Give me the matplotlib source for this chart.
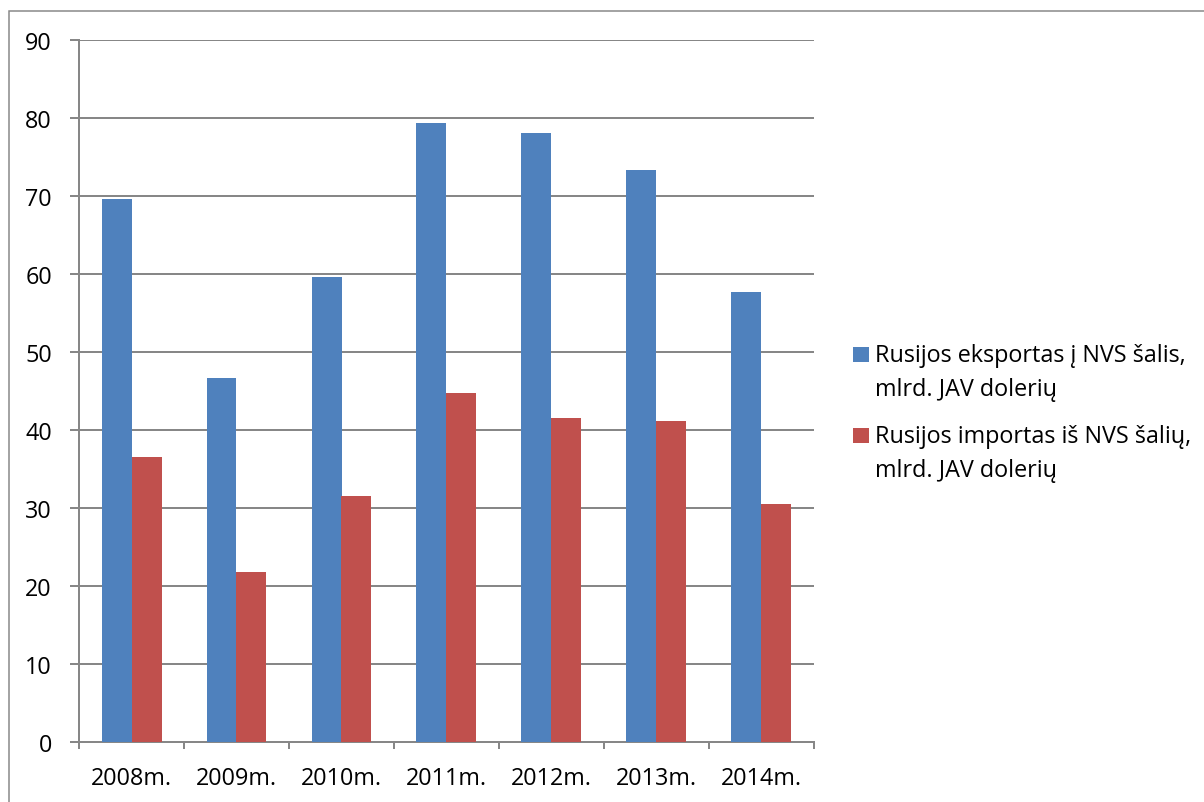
import matplotlib
matplotlib.use("Agg")
import matplotlib.pyplot as plt
import numpy as np
from matplotlib.patches import Rectangle

# Data
years = ["2008m.", "2009m.", "2010m.", "2011m.", "2012m.", "2013m.", "2014m."]
exports = [69.6, 46.7, 59.6, 79.4, 78.1, 73.4, 57.7]
imports = [36.6, 21.8, 31.6, 44.8, 41.6, 41.2, 30.6]
series_labels = ["Rusijos eksportas į NVS šalis,\nmlrd. JAV dolerių",
                 "Rusijos importas iš NVS šalių,\nmlrd. JAV dolerių"]
yticks = [0, 10, 20, 30, 40, 50, 60, 70, 80, 90]

blue = "#4F81BD"
red = "#C0504D"
grey = "#878787"

plt.rcParams["font.family"] = ["Open Sans", "DejaVu Sans"]
FS = 16.8

W, H = 1204, 803
PX = 72 / 100  # points per pixel at 100 dpi
fig = plt.figure(figsize=(W / 100, H / 100), dpi=100)

# outer chart frame
fig.patches.append(Rectangle((9 / W, -0.1), 1.2, (H - 12) / H + 0.1,
                             transform=fig.transFigure, fill=False,
                             edgecolor=grey, linewidth=1.5 * PX))

ax = fig.add_axes([79 / W, (H - 743.3) / H, (814 - 79) / W, (743.3 - 41.3) / H])

x = np.arange(len(years))
w = 1 / 3.5
ax.bar(x - w / 2, exports, w, color=blue, zorder=3)
ax.bar(x + w / 2, imports, w, color=red, zorder=3)

ax.set_xlim(-0.5, len(years) - 0.5)
ax.set_ylim(0, 90)
ax.set_yticks(yticks)
ax.set_yticklabels([str(v) for v in yticks], fontsize=FS)
ax.set_xticks(x)
ax.set_xticklabels(years, fontsize=FS)
ax.set_xticks(np.arange(len(years) + 1) - 0.5, minor=True)

ax.grid(axis="y", color=grey, linewidth=2 * PX, zorder=0)
ax.tick_params(axis="y", length=9 * PX, width=2 * PX, color=grey, pad=18 * PX)
ax.tick_params(axis="x", which="major", length=0, pad=24 * PX)
ax.tick_params(axis="x", which="minor", length=7 * PX, width=2 * PX, color=grey)

for side in ["top", "right"]:
    ax.spines[side].set_visible(False)
for side in ["left", "bottom"]:
    ax.spines[side].set_color(grey)
    ax.spines[side].set_linewidth(2 * PX)

# legend: colour key with two-line labels
for i, (label, color) in enumerate(zip(series_labels, [blue, red])):
    y0 = 348 + 81 * i
    fig.patches.append(Rectangle((853 / W, 1 - (y0 + 15) / H), 16 / W, 15 / H,
                                 transform=fig.transFigure, facecolor=color,
                                 edgecolor="none"))
    for j, line in enumerate(label.split("\n")):
        base = 362 + 81 * i + 34 * j
        fig.text(875 / W, 1 - base / H, line, fontsize=FS, va="baseline",
                 ha="left", color="black")

fig.savefig("out.png", dpi=100)
